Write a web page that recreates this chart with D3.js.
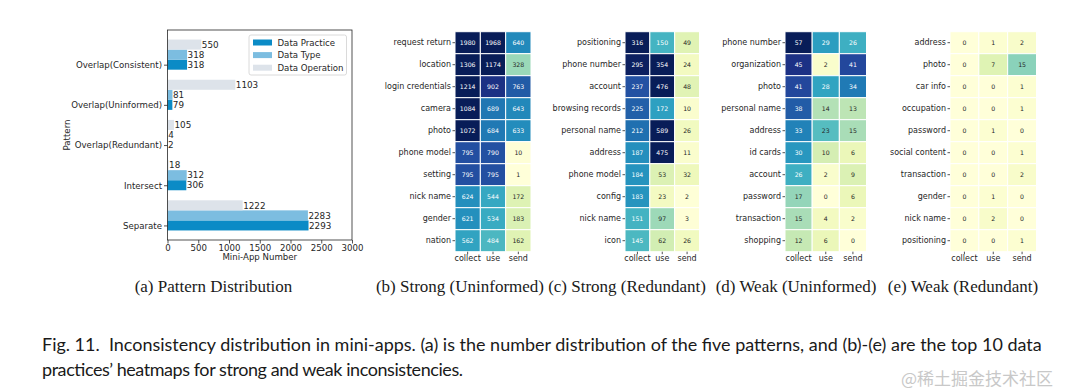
<!DOCTYPE html>
<html>
<head>
<meta charset="utf-8">
<script src="https://cdn.jsdelivr.net/npm/d3@7"></script>
<style>
  body { margin: 0; background: #fff; }
  svg { display: block; }
  text { font-family: "DejaVu Sans", sans-serif; fill: #262626; }
</style>
</head>
<body>
<svg id="fig" width="1080" height="390"></svg>
<script>
// --- (a) pattern distribution ---
const patterns = ['Overlap(Consistent)', 'Overlap(Uninformed)', 'Overlap(Redundant)', 'Intersect', 'Separate'];
const dataPractice = [318, 79, 2, 306, 2293];
const dataType = [318, 81, 4, 312, 2283];
const dataOperation = [550, 1103, 105, 18, 1222];
const xTicks = [0, 500, 1000, 1500, 2000, 2500, 3000];

// --- (b)-(e) heatmaps, columns are the same for all four ---
const operations = ['collect', 'use', 'send'];

const strongUninformedRows = ['request return', 'location', 'login credentials', 'camera', 'photo',
  'phone model', 'setting', 'nick name', 'gender', 'nation'];
const strongUninformedValues = [
  [1980, 1968, 640], [1306, 1174, 328], [1214, 902, 763], [1084, 689, 643], [1072, 684, 633],
  [795, 790, 10], [795, 795, 1], [624, 544, 172], [621, 534, 183], [562, 484, 162]];

const strongRedundantRows = ['positioning', 'phone number', 'account', 'browsing records', 'personal name',
  'address', 'phone model', 'config', 'nick name', 'icon'];
const strongRedundantValues = [
  [316, 150, 49], [295, 354, 24], [237, 476, 48], [225, 172, 10], [212, 589, 26],
  [187, 475, 11], [184, 53, 32], [183, 23, 2], [151, 97, 3], [145, 62, 26]];

const weakUninformedRows = ['phone number', 'organization', 'photo', 'personal name', 'address',
  'id cards', 'account', 'password', 'transaction', 'shopping'];
const weakUninformedValues = [
  [57, 29, 26], [45, 2, 41], [41, 28, 34], [38, 14, 13], [33, 23, 15],
  [30, 10, 6], [26, 2, 9], [17, 0, 6], [15, 4, 2], [12, 6, 0]];

const weakRedundantRows = ['address', 'photo', 'car info', 'occupation', 'password',
  'social content', 'transaction', 'gender', 'nick name', 'positioning'];
const weakRedundantValues = [
  [0, 1, 2], [0, 7, 15], [0, 0, 1], [0, 0, 1], [0, 1, 0],
  [0, 0, 1], [0, 0, 2], [0, 1, 0], [0, 2, 0], [0, 0, 1]];

const subCaptions = ['(a) Pattern Distribution', '(b) Strong (Uninformed)', '(c) Strong (Redundant)',
  '(d) Weak (Uninformed)', '(e) Weak (Redundant)'];
const captionLines = [
  'Fig. 11.  Inconsistency distribution in mini-apps. (a) is the number distribution of the five patterns, and (b)-(e) are the top 10 data',
  'practices\u2019 heatmaps for strong and weak inconsistencies.'];
const watermark = '@稀土掘金技术社区';

const svg = d3.select('#fig');

// ---------------- (a) bar chart ----------------
const x = d3.scaleLinear().domain([0, 3000]).range([167.5, 352]);
const y = d3.scaleLinear().domain([-0.8625, 4.3625]).range([30, 240]);
const barH = y(0.25) - y(0);

const series = [
  { name: 'Data Practice', values: dataPractice, color: '#0b8bc6', offset: 0 },
  { name: 'Data Type', values: dataType, color: '#7cbde0', offset: -0.25 },
  { name: 'Data Operation', values: dataOperation, color: '#dde3ea', offset: -0.5 },
];

const barG = svg.append('g');
series.forEach(s => {
  barG.selectAll(null)
    .data(s.values)
    .join('rect')
    .attr('x', x(0))
    .attr('y', (d, i) => y(i + s.offset) - barH / 2)
    .attr('width', d => x(d) - x(0))
    .attr('height', barH)
    .attr('fill', s.color);

  barG.selectAll(null)
    .data(s.values)
    .join('text')
    .attr('x', d => x(d) + 0.5)
    .attr('y', (d, i) => y(i + s.offset))
    .attr('dy', '0.36em')
    .attr('font-size', 8.8)
    .text(d => d);
});

// axes
const xAxis = svg.append('g')
  .attr('transform', 'translate(0,240)')
  .call(d3.axisBottom(x).tickValues(xTicks).tickFormat(d3.format('d')).tickSize(3.5).tickPadding(1.5));
const yAxis = svg.append('g')
  .attr('transform', `translate(${x(0)},0)`)
  .call(d3.axisLeft(y).tickValues(d3.range(patterns.length)).tickFormat(i => patterns[i])
    .tickSize(3.5).tickPadding(2));
[xAxis, yAxis].forEach(a => {
  a.select('.domain').remove();
  a.selectAll('text').attr('font-size', 8.6).attr('fill', '#262626').attr('font-family', 'DejaVu Sans');
  a.selectAll('line').attr('stroke', '#262626').attr('stroke-width', 0.8);
});

svg.append('rect')
  .attr('x', x(0)).attr('y', 30)
  .attr('width', x(3000) - x(0)).attr('height', 210)
  .attr('fill', 'none').attr('stroke', '#262626').attr('stroke-width', 0.8);

svg.append('text')
  .attr('x', (x(0) + x(3000)) / 2).attr('y', 260)
  .attr('text-anchor', 'middle').attr('font-size', 8.6)
  .text('Mini-App Number');

svg.append('text')
  .attr('transform', 'translate(69.5,135) rotate(-90)')
  .attr('text-anchor', 'middle').attr('font-size', 8.6)
  .text('Pattern');

// legend
const legend = svg.append('g');
legend.append('rect')
  .attr('x', 249).attr('y', 35).attr('width', 97.5).attr('height', 40).attr('rx', 2)
  .attr('fill', '#fff').attr('fill-opacity', 0.8)
  .attr('stroke', '#d0d0d0').attr('stroke-width', 0.8);
series.forEach((s, k) => {
  const ly = 42.5 + k * 12.6;
  legend.append('rect')
    .attr('x', 253).attr('y', ly - 3).attr('width', 19).attr('height', 6)
    .attr('fill', s.color);
  legend.append('text')
    .attr('x', 277.5).attr('y', ly).attr('dy', '0.36em')
    .attr('font-size', 8.6).text(s.name);
});

// ---------------- (b)-(e) heatmaps ----------------
const panels = [
  { rows: strongUninformedRows, values: strongUninformedValues, x0: 455, x1: 531, vmax: 1000 },
  { rows: strongRedundantRows, values: strongRedundantValues, x0: 625, x1: 699.5, vmax: 300 },
  { rows: weakUninformedRows, values: weakUninformedValues, x0: 785, x1: 866.5, vmax: 50 },
  { rows: weakRedundantRows, values: weakRedundantValues, x0: 950, x1: 1036.5, vmax: 42 },
];

// same luminance rule seaborn uses to pick the annotation colour
function luminance(c) {
  const rgb = d3.rgb(c);
  const f = v => {
    v /= 255;
    return v <= 0.03928 ? v / 12.92 : Math.pow((v + 0.055) / 1.055, 2.4);
  };
  return 0.2126 * f(rgb.r) + 0.7152 * f(rgb.g) + 0.0722 * f(rgb.b);
}

const hmTop = 31.7, hmBottom = 251.7;

panels.forEach(p => {
  const xs = d3.scaleBand().domain(operations).range([p.x0, p.x1]);
  const ys = d3.scaleBand().domain(p.rows).range([hmTop, hmBottom]);
  const color = d3.scaleSequential(d3.interpolateYlGnBu).domain([0, p.vmax]).clamp(true);

  const cells = p.rows.flatMap((r, i) => operations.map((op, j) => ({ r, op, v: p.values[i][j] })));
  const g = svg.append('g');

  g.selectAll('rect')
    .data(cells)
    .join('rect')
    .attr('x', d => xs(d.op))
    .attr('y', d => ys(d.r))
    .attr('width', xs.bandwidth())
    .attr('height', ys.bandwidth())
    .attr('fill', d => color(d.v))
    .attr('stroke', '#fff')
    .attr('stroke-width', 1);

  g.selectAll('text')
    .data(cells)
    .join('text')
    .attr('x', d => xs(d.op) + xs.bandwidth() / 2)
    .attr('y', d => ys(d.r) + ys.bandwidth() / 2)
    .attr('dy', '0.36em')
    .attr('text-anchor', 'middle')
    .attr('font-size', 6.2)
    .style('fill', d => luminance(color(d.v)) > 0.408 ? '#262626' : '#ffffff')
    .text(d => d.v);

  const ya = svg.append('g')
    .attr('transform', `translate(${p.x0},0)`)
    .call(d3.axisLeft(ys).tickSize(2.5).tickPadding(1.5));
  const xa = svg.append('g')
    .attr('transform', `translate(0,${hmBottom})`)
    .call(d3.axisBottom(xs).tickSize(2.5).tickPadding(1));
  [ya, xa].forEach(a => {
    a.select('.domain').remove();
    a.selectAll('text').attr('font-size', 8).attr('fill', '#262626').attr('font-family', 'DejaVu Sans');
    a.selectAll('line').attr('stroke', '#262626').attr('stroke-width', 0.8);
  });
});

// ---------------- captions ----------------
const subX = [213.5, 460, 627, 796, 963];
svg.selectAll('.sub')
  .data(subCaptions)
  .join('text')
  .attr('class', 'sub')
  .attr('x', (d, i) => subX[i])
  .attr('y', 291.5)
  .attr('text-anchor', 'middle')
  .style('font-family', '"Liberation Serif", serif')
  .attr('font-size', 17)
  .style('fill', '#1a1a1a')
  .text(d => d);

const capWidths = [1000, 421];
const cap = svg.selectAll('.cap')
  .data(captionLines)
  .join('text')
  .attr('class', 'cap')
  .attr('x', 42)
  .attr('y', (d, i) => 350.5 + i * 25)
  .style('font-family', 'Lato, sans-serif')
  .style('white-space', 'pre')
  .style('fill', '#1a1a1a')
  .attr('font-size', 16)
  .text(d => d);

// scale the caption font so the first line spans the full text width,
// then pull the second line in with letter spacing only
const firstLen = cap.node().getComputedTextLength();
cap.attr('font-size', 16 * 1000 / firstLen);
cap.filter((d, i) => i === 1)
  .attr('textLength', capWidths[1])
  .attr('lengthAdjust', 'spacing');

svg.append('text')
  .attr('x', 1053).attr('y', 385)
  .attr('text-anchor', 'end')
  .style('font-family', '"Noto Sans CJK SC", sans-serif')
  .attr('font-size', 17)
  .style('fill', '#c8c8c8')
  .text(watermark);
</script>
</body>
</html>
